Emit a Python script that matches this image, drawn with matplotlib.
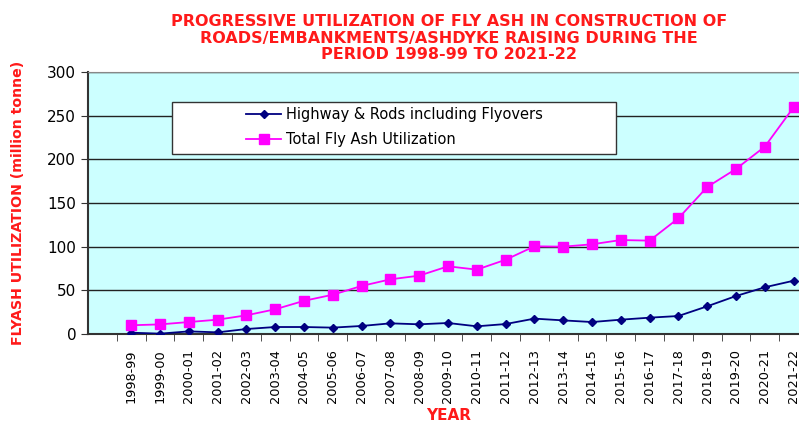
import numpy as np
import matplotlib.pyplot as plt
from matplotlib.ticker import FixedLocator
from matplotlib.patches import Rectangle

years = ['1998-99', '1999-00', '2000-01', '2001-02', '2002-03', '2003-04', '2004-05', '2005-06',
         '2006-07', '2007-08', '2008-09', '2009-10', '2010-11', '2011-12', '2012-13', '2013-14',
         '2014-15', '2015-16', '2016-17', '2017-18', '2018-19', '2019-20', '2020-21', '2021-22']
highway = [1.5, 0.4, 3.0, 1.9, 5.7, 8.0, 8.0, 7.3, 9.2, 12.2, 11.1, 12.6,
           8.8, 11.4, 17.6, 15.6, 13.7, 16.4, 18.7, 20.6, 31.7, 43.5, 53.5, 61.0]
total = [10.0, 11.0, 13.7, 16.4, 21.4, 28.3, 38.0, 45.0, 55.0, 62.6, 66.8, 77.5,
         73.7, 85.0, 100.4, 100.0, 102.7, 107.6, 106.9, 132.5, 168.3, 189.0, 214.5, 259.6]

red = '#ff1a1a'
W, H = 799, 422
fig = plt.figure(figsize=(W / 100, H / 100), dpi=100)
# axes: left 88px, top 72px, bottom 334px, 28.8px per category
ax = fig.add_axes([88 / W, 1 - 334 / H, 720 / W, 262 / H])
ax.set_facecolor('#ccffff')

x = np.arange(len(years))
ax.plot(x, highway, color='#000080', marker='D', markersize=4.5, linewidth=1.3,
        label='Highway & Rods including Flyovers', zorder=3)
ax.plot(x, total, color='#ff00ff', marker='s', markersize=7.5, linewidth=1.3,
        label='Total Fly Ash Utilization', zorder=3)

ax.set_xlim(-1.5, 23.5)
ax.set_ylim(0, 300)
ax.set_yticks(range(0, 301, 50))
ax.yaxis.grid(True, color='#222222', linewidth=1.0)
ax.set_axisbelow(True)

ax.set_xticks(x)
ax.set_xticklabels(years, rotation=90, fontsize=9.3)
ax.tick_params(axis='x', which='major', length=0, pad=11)
ax.xaxis.set_minor_locator(FixedLocator(np.arange(-0.5, 23.6, 1)))
ax.tick_params(axis='x', which='minor', length=5, direction='out', color='#333333')
ax.tick_params(axis='y', length=5, labelsize=11, color='#333333')

for s in ['left', 'bottom']:
    ax.spines[s].set_color('#333333')
    ax.spines[s].set_linewidth(1.5)
for s in ['top', 'right']:
    ax.spines[s].set_color('#888888')

ax.set_ylabel('FLYASH UTILIZATION (million tonne)', color=red, fontsize=10.2,
              fontweight='bold')
ax.yaxis.set_label_coords((25 - 88) / 720, 0.5)
ax.set_xlabel('YEAR', color=red, fontsize=11, fontweight='bold')
ax.xaxis.set_label_coords((449 - 88) / 720, -(408 - 334) / 262)
ax.xaxis.label.set_va('top')

fig.text(449 / W, 1 - 38 / H,
         'PROGRESSIVE UTILIZATION OF FLY ASH IN CONSTRUCTION OF\n'
         'ROADS/EMBANKMENTS/ASHDYKE RAISING DURING THE\n'
         'PERIOD 1998-99 TO 2021-22',
         ha='center', va='center', color=red, fontsize=11.5, fontweight='bold',
         linespacing=1.12)

# white legend box, then a frameless legend inside it
bx0, bx1, by0, by1 = 172, 616, 102, 154
ax.add_patch(Rectangle(((bx0 - 88) / 720, (334 - by1) / 262), (bx1 - bx0) / 720,
                       (by1 - by0) / 262, transform=ax.transAxes, facecolor='white',
                       edgecolor='#333333', linewidth=1.0, zorder=4))
leg = ax.legend(loc='upper left', bbox_to_anchor=((246 - 88) / 720, (334 - 107) / 262),
                fontsize=10.5, frameon=False, borderpad=0, labelspacing=0.7,
                handlelength=2.4, handletextpad=0.35, borderaxespad=0)
leg.set_zorder(5)

plt.savefig('out.png', dpi=100)
